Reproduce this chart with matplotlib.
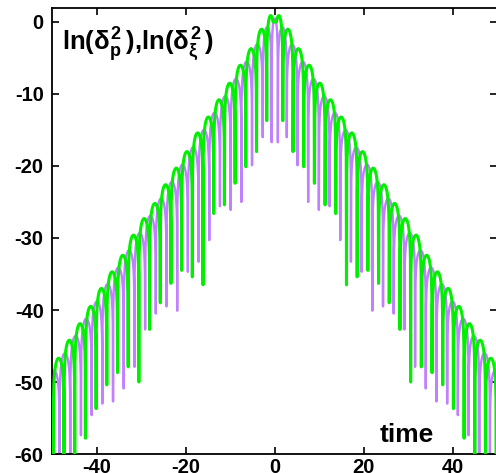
# ln(delta^2) of two oscillating perturbations vs time
import numpy as np
import matplotlib.pyplot as plt

plt.rcParams['font.family'] = ['Liberation Sans', 'DejaVu Sans']
plt.rcParams['font.weight'] = 'bold'
plt.rcParams['axes.unicode_minus'] = False
plt.rcParams['mathtext.fontset'] = 'custom'
plt.rcParams['mathtext.rm'] = 'Liberation Sans:bold'
plt.rcParams['mathtext.it'] = 'Liberation Sans:bold'
plt.rcParams['mathtext.bf'] = 'Liberation Sans:bold'

# values, t >= 0 half (the curves are even in t)
# green, ln(delta_p^2): dips (time, depth) and the top of each arch between dips
green_dip_t = [0.0, 1.8, 4.1, 6.5, 8.9, 11.3, 13.7, 16.1, 18.5, 20.9, 23.3,
               25.7, 28.1, 30.5, 32.9, 35.3, 37.7, 40.1, 42.5, 44.9, 47.3, 49.7]
green_dip_v = [0.0, -13.7, -18.0, -20.1, -22.4, -25.4, -26.6, -36.5, -35.4, -34.5, -36.3,
               -39.0, -42.7, -50.0, -47.9, -48.7, -50.4, -53.7, -57.8, -66.0, -66.0, -66.0]
green_peak_v = [0.9, -1.0, -3.7, -6.0, -8.5, -10.8, -13.2, -15.4, -18.0, -20.3, -22.6,
                -25.2, -27.3, -29.6, -32.4, -34.7, -37.0, -39.5, -41.9, -44.2, -46.7]

# purple, ln(delta_xi^2); first peak is the central arch between -0.7 and 0.7
purple_dip_t = [0.7, 2.7, 5.1, 7.5, 9.9, 12.3, 14.7, 17.1, 19.5, 21.9, 24.3,
                26.7, 29.1, 31.5, 33.9, 36.3, 38.7, 41.1, 43.5, 45.9, 48.3, 50.7]
purple_dip_v = [-16.7, -16.0, -19.9, -25.0, -26.1, -25.6, -30.3, -33.3, -34.7, -40.1, -39.5,
                -40.5, -42.7, -47.9, -50.9, -52.7, -53.0, -54.6, -57.4, -66.0, -66.0, -66.0]
purple_peak_v = [0.5, -0.7, -3.1, -5.5, -7.9, -10.3, -12.6, -15.0, -17.4, -19.8, -22.2,
                 -24.5, -26.9, -29.3, -31.7, -34.1, -36.4, -38.8, -41.2, -43.6, -46.0, -48.4]

xticks = [-40, -20, 0, 20, 40]
yticks = [0, -10, -20, -30, -40, -50, -60]


def mirror(dip_t, dip_v, peak_v, shared_zero):
    if shared_zero:
        # dip at t=0 belongs to both halves
        t = [-x for x in dip_t[::-1]] + dip_t[1:]
        v = dip_v[::-1] + dip_v[1:]
        p = peak_v[::-1] + peak_v
    else:
        t = [-x for x in dip_t[::-1]] + dip_t
        v = dip_v[::-1] + dip_v
        p = peak_v[1:][::-1] + peak_v
    return t, v, p


def arches(dip_t, dip_v, peak_v, n=80):
    # join the read dips with ln|sin|-shaped arches topping out at the read peaks
    ts = [dip_t[0]]
    vs = [dip_v[0]]
    for i in range(len(peak_v)):
        t0, t1 = dip_t[i], dip_t[i + 1]
        x = np.linspace(0.02, 0.98, n)
        v = peak_v[i] + np.log(np.sin(np.pi * x) ** 2)
        v = np.maximum(v, np.where(x < 0.5, dip_v[i], dip_v[i + 1]))
        ts.extend(t0 + x * (t1 - t0))
        vs.extend(v)
        ts.append(t1)
        vs.append(dip_v[i + 1])
    return ts, vs


gt, gv = arches(*mirror(green_dip_t, green_dip_v, green_peak_v, True))
pt, pv = arches(*mirror(purple_dip_t, purple_dip_v, purple_peak_v, False))

fig = plt.figure(figsize=(4.96, 4.73), dpi=100)
ax = fig.add_axes([52 / 496, 1 - 454 / 473, 445.5 / 496, 446.4 / 473])

ax.plot(pt, pv, color='#c080ff', lw=1.7, zorder=2)
ax.plot(gt, gv, color='#00f000', lw=2.2, zorder=3)

ax.set_xlim(-50, 50)
ax.set_ylim(-60, 2)
ax.set_xticks(xticks)
ax.set_yticks(yticks)
ax.tick_params(direction='in', top=True, right=True, length=5, width=1.2, labelsize=14.5)
ax.tick_params(axis='y', pad=6)
ax.tick_params(axis='x', pad=3)
for s in ax.spines.values():
    s.set_linewidth(1.3)

ax.text(-47.7, -3.9, r'ln($\delta_{p}^{2}\,$),ln($\delta_{\xi}^{2}\,$)', fontsize=18.5,
        ha='left', va='baseline')
ax.text(29.6, -58.3, 'time', fontsize=19, ha='center', va='baseline')

fig.savefig('out.png', dpi=100)
